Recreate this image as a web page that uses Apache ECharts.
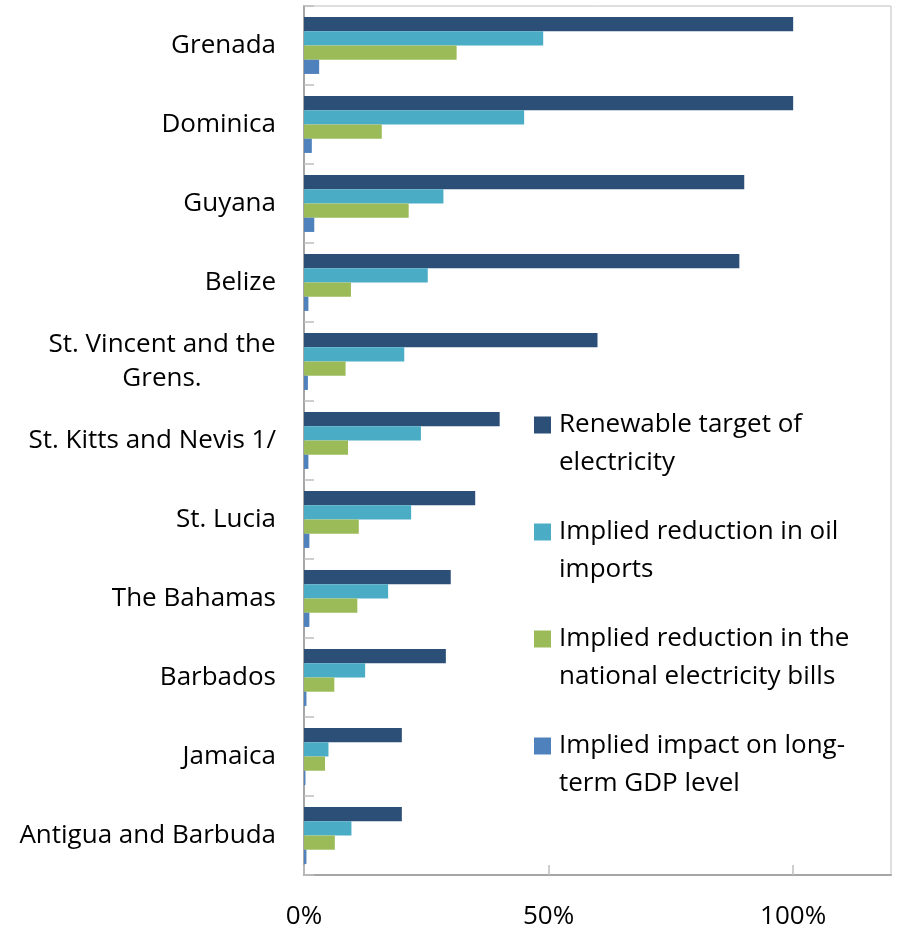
<!DOCTYPE html>
<html>
<head>
<meta charset="utf-8">
<script src="https://cdn.jsdelivr.net/npm/echarts@6/dist/echarts.min.js"></script>
<style>
  html, body { margin: 0; padding: 0; background: #fff; }
  #chart { width: 898px; height: 930px; }
</style>
</head>
<body>
<div id="chart"></div>
<script>
// Countries, top to bottom
const countries = [
  'Grenada', 'Dominica', 'Guyana', 'Belize', 'St. Vincent and the\nGrens.',
  'St. Kitts and Nevis 1/', 'St. Lucia', 'The Bahamas', 'Barbados', 'Jamaica',
  'Antigua and Barbuda'
];

// Shares, in percent
const renewableTarget = [100, 100, 90, 89, 60, 40, 35, 30, 29, 20, 20];
const oilImportsCut   = [48.9, 45, 28.5, 25.3, 20.5, 23.9, 21.9, 17.2, 12.5, 5.0, 9.7];
const billsCut        = [31.2, 15.9, 21.4, 9.6, 8.5, 9.0, 11.2, 10.9, 6.2, 4.3, 6.3];
const gdpImpact       = [3.1, 1.6, 2.1, 0.9, 0.8, 0.9, 1.1, 1.1, 0.5, 0.3, 0.5];

// x-axis tick labels (0, 50, 100)
const xTicks = [0, 50, 100];

const seriesNames = [
  'Renewable target of electricity',
  'Implied reduction in oil imports',
  'Implied reduction in the national electricity bills',
  'Implied impact on long-term GDP level'
];
const legendText = {
  'Renewable target of electricity': 'Renewable target of\nelectricity',
  'Implied reduction in oil imports': 'Implied reduction in oil\nimports',
  'Implied reduction in the national electricity bills': 'Implied reduction in the\nnational electricity bills',
  'Implied impact on long-term GDP level': 'Implied impact on long-\nterm GDP level'
};
const colors = ['#2C4F78', '#4BACC6', '#9BBB59', '#4F81BD'];
const values = [renewableTarget, oilImportsCut, billsCut, gdpImpact];

const font = '"Open Sans", "Noto Sans", sans-serif';
const FS = 26;
const LH = 38;

// Width of the widest line of a multi-line label
const measureCtx = document.createElement('canvas').getContext('2d');
measureCtx.font = FS + 'px ' + font;
function blockWidth(text) {
  return Math.ceil(Math.max.apply(null, text.split('\n').map(s => measureCtx.measureText(s).width)));
}

// Multi-line category labels: lines centred on each other, block still flush with the axis
const yCategories = countries.map(c => {
  if (c.indexOf('\n') < 0) return c;
  return { value: c, textStyle: { align: 'center', padding: [0, blockWidth(c), 0, 0] } };
});

// Square key beside the first line of a two-line legend entry
const keyIcon = 'path://M0,0h0.01v0.01h-0.01z M0,10.5h17v17h-17z M20,76h0.01v-0.01h-0.01z';

const chart = echarts.init(document.getElementById('chart'));

chart.setOption({
  animation: false,
  backgroundColor: '#fff',
  textStyle: { fontFamily: font },
  grid: {
    left: 304, right: 7, top: 6, bottom: 55,
    containLabel: false,
    outerBoundsMode: 'none',
    show: true, borderColor: '#BFBFBF', borderWidth: 1
  },
  legend: {
    orient: 'vertical',
    left: 534, top: 406,
    itemWidth: 20, itemHeight: 76,
    itemGap: 31,
    padding: 0,
    icon: keyIcon,
    data: seriesNames,
    formatter: name => legendText[name],
    textStyle: { fontFamily: font, fontSize: FS, color: '#000', lineHeight: LH }
  },
  xAxis: {
    type: 'value',
    min: 0, max: 120, interval: 50,
    splitLine: { show: false },
    axisLine: { show: true, lineStyle: { color: '#A6A6A6', width: 2 } },
    axisTick: { show: true, inside: true, length: 10, lineStyle: { color: '#BFBFBF', width: 1.5 } },
    axisLabel: {
      showMaxLabel: false,
      formatter: v => (xTicks.indexOf(v) >= 0 ? v + '%' : ''),
      fontSize: FS, color: '#000', margin: 29, fontFamily: font
    }
  },
  yAxis: {
    type: 'category',
    inverse: true,
    data: yCategories,
    axisLine: { show: true, lineStyle: { color: '#A6A6A6', width: 2 } },
    axisTick: { show: true, inside: true, length: 10, lineStyle: { color: '#BFBFBF', width: 1.5 } },
    axisLabel: {
      fontSize: FS, color: '#000', margin: 28, fontFamily: font,
      lineHeight: 34, align: 'right'
    }
  },
  series: seriesNames.map((name, i) => ({
    name,
    type: 'bar',
    data: values[i],
    barGap: '0%',
    barCategoryGap: '28%',
    itemStyle: { color: colors[i] }
  }))
});
</script>
</body>
</html>
